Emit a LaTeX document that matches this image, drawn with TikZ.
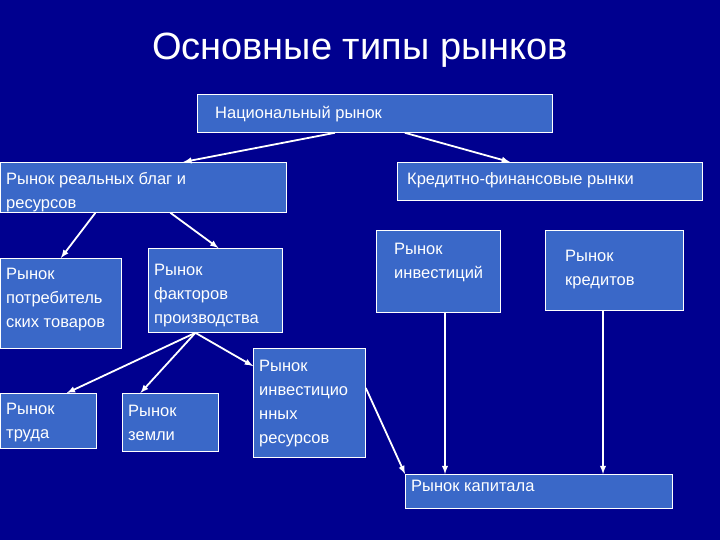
\documentclass[tikz,border=0pt]{standalone}
\usepackage{fontspec}
\setmainfont{Liberation Sans}
\definecolor{bg}{HTML}{00008F}
\definecolor{bx}{HTML}{3A68C8}
\begin{document}
\begin{tikzpicture}[x=1pt,y=-1pt,
 box/.style={draw=white,fill=bx,line width=0.8pt,anchor=north west,inner sep=0pt},
 txt/.style={text=white,font=\fontsize{16.5}{24}\selectfont,anchor=north west,align=left,inner sep=0pt},
 arr/.style={draw=white,line width=1.8pt,-latex}]
\fill[bg] (0,0) rectangle (720,540);
\useasboundingbox (0,0) rectangle (720,540);
\node[text=white,font=\fontsize{38}{42}\selectfont] (title) at (360,50) {Основные типы рынков};
\newcommand{\bxx}[7]{%
 \node[box,minimum width=#3-#1,minimum height=#4-#2] (#5) at (#1,#2) {};
 \node[txt] (#5t) at ([shift={(6pt,-#7pt)}]#5.north west) {#6};}
\bxx{197}{94}{552}{132}{nat}{\hspace{12pt}Национальный рынок}{12}
\bxx{0}{162}{286}{212}{real}{Рынок реальных благ и\\ресурсов}{10}
\bxx{397}{162}{702}{200}{fin}{\hspace{4pt}Кредитно-финансовые рынки}{10}
\bxx{376}{230}{500}{312}{inv}{\hspace{12pt}Рынок\\\hspace{12pt}инвестиций}{13}
\bxx{545}{230}{683}{310}{cred}{\hspace{14pt}Рынок\\\hspace{14pt}кредитов}{20}
\bxx{0}{258}{121}{348}{cons}{Рынок\\потребитель\\ских товаров}{10}
\bxx{148}{248}{282}{332}{fact}{Рынок\\факторов\\производства}{16}
\bxx{0}{393}{96}{448}{lab}{Рынок\\труда}{10}
\bxx{122}{393}{218}{451}{land}{Рынок\\земли}{12}
\bxx{253}{348}{365}{457}{invr}{Рынок\\инвестицио\\нных\\ресурсов}{12}
\bxx{405}{474}{672}{508}{cap}{Рынок капитала}{6}
\draw[arr] ([xshift=-40pt]nat.south) -- ([xshift=40pt]real.north);
\draw[arr] ([xshift=30pt]nat.south) -- ([xshift=-40pt]fin.north);
\draw[arr] ([xshift=-48pt]real.south) -- (cons.north);
\draw[arr] ([xshift=27pt]real.south) -- ([xshift=3pt]fact.north);
\coordinate (fb) at ([xshift=-20pt]fact.south);
\draw[arr] (fb) -- ([xshift=-30pt]lab.north east);
\draw[arr] (fb) -- ([xshift=-30pt]land.north);
\draw[arr] (fb) -- ([yshift=-18pt]invr.north west);
\draw[arr] ([yshift=-40pt]invr.north east) -- (cap.north west);
\draw[arr] (inv.south -| 445,0) -- (cap.north -| 445,0);
\draw[arr] (cred.south -| 603,0) -- (cap.north -| 603,0);
\end{tikzpicture}
\end{document}
